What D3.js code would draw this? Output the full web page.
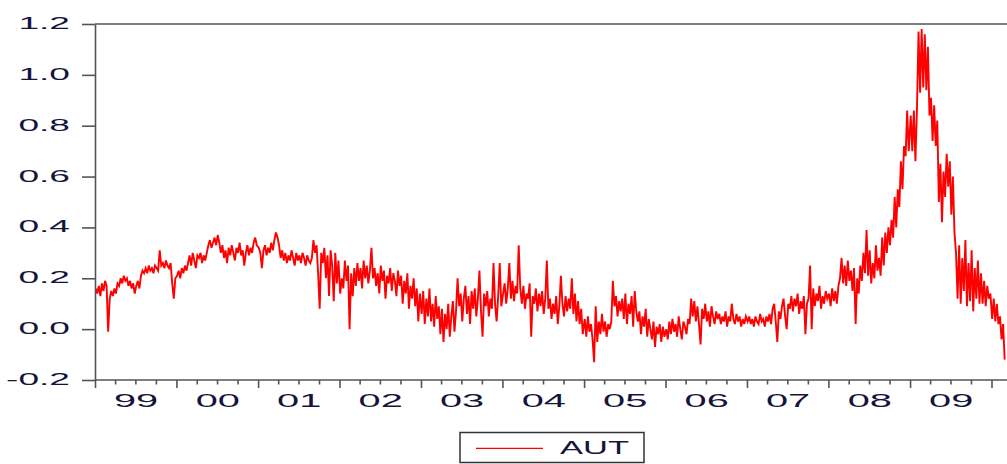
<!DOCTYPE html>
<html>
<head>
<meta charset="utf-8">
<script src="https://cdn.jsdelivr.net/npm/d3@7"></script>
<style>
  html, body { margin: 0; padding: 0; background: #fff; }
  svg { display: block; }
  text { font-family: "Liberation Sans", Arial, sans-serif; fill: #14143c; }
</style>
</head>
<body>
<svg id="chart" width="1007" height="464"></svg>
<script>
// AUT series, weekly observations grouped by calendar year
const seriesName = "AUT";

const aut1999 = [0.16,0.14,0.17,0.13,0.18,0.15,0.19,0.17,-0.01,0.12,0.15,0.13,0.16,0.14,0.18,0.17,
  0.2,0.18,0.21,0.19,0.2,0.17,0.19,0.16,0.18,0.14,0.17,0.19,0.16,0.21,0.23,0.22,0.24,0.22,0.25,0.23,
  0.24,0.22,0.25,0.24,0.23,0.31,0.25,0.26,0.24,0.27,0.25,0.24,0.26,0.18,0.12,0.2];
const aut2000 = [0.21,0.23,0.2,0.24,0.22,0.25,0.23,0.26,0.29,0.25,0.3,0.27,0.24,0.29,0.28,0.3,0.26,
  0.29,0.27,0.3,0.33,0.35,0.32,0.34,0.36,0.33,0.37,0.34,0.3,0.33,0.28,0.31,0.26,0.32,0.29,0.33,0.3,
  0.27,0.32,0.3,0.34,0.29,0.31,0.25,0.3,0.33,0.29,0.32,0.3,0.34,0.36,0.33];
const aut2001 = [0.32,0.3,0.24,0.31,0.33,0.29,0.32,0.3,0.34,0.31,0.35,0.38,0.36,0.33,0.28,0.31,0.27,
  0.3,0.26,0.29,0.27,0.31,0.28,0.25,0.3,0.27,0.29,0.26,0.3,0.28,0.25,0.29,0.27,0.26,0.28,0.35,0.3,
  0.33,0.22,0.08,0.3,0.26,0.32,0.2,0.29,0.13,0.31,0.25,0.11,0.3,0.18,0.27];
const aut2002 = [0.14,0.2,0.16,0.27,0.19,0.25,0.0,0.22,0.13,0.24,0.17,0.26,0.19,0.24,0.16,0.27,0.2,
  0.25,0.18,0.23,0.32,0.2,0.24,0.17,0.22,0.14,0.25,0.19,0.23,0.12,0.21,0.18,0.24,0.15,0.22,0.19,
  0.13,0.23,0.17,0.21,0.1,0.19,0.14,0.22,0.08,0.17,0.12,0.2,0.09,0.16,0.03,0.14];
const aut2003 = [0.06,0.15,0.02,0.12,0.05,0.16,0.03,0.1,0.01,0.13,0.04,0.09,-0.02,0.08,-0.05,0.06,
  0.0,0.1,-0.03,0.05,0.11,-0.01,0.07,0.2,0.09,0.14,0.03,0.12,0.17,0.06,0.13,0.02,0.15,0.08,0.16,
  0.05,0.12,0.23,0.07,-0.03,0.14,0.09,0.15,0.05,0.12,0.08,0.26,0.1,0.03,0.13,0.26,0.09];
const aut2004 = [0.14,0.18,0.1,0.16,0.26,0.12,0.19,0.11,0.17,0.14,0.33,0.16,0.1,0.17,0.08,0.14,0.12,
  0.18,-0.03,0.13,0.1,0.16,0.07,0.14,0.09,0.15,0.06,0.12,0.27,0.08,0.12,0.04,0.1,0.06,0.13,0.02,
  0.09,0.21,0.1,0.05,0.13,0.07,0.12,0.08,0.2,0.06,0.14,0.03,0.11,0.02,0.08,-0.02];
const aut2005 = [0.04,-0.03,0.05,-0.01,0.02,-0.04,-0.13,0.09,-0.05,0.03,-0.02,0.06,-0.01,0.03,-0.03,
  0.02,0.0,0.03,0.19,0.09,0.13,0.05,0.11,0.07,0.12,0.04,0.14,0.02,0.1,0.06,0.13,0.01,0.15,0.07,
  0.03,0.07,-0.02,0.05,0.01,0.08,-0.03,0.04,0.0,-0.04,0.03,-0.07,0.01,-0.02,0.02,-0.05,0.01,-0.03];
const aut2006 = [0.0,-0.04,0.03,-0.02,0.04,-0.01,0.02,-0.03,0.05,0.0,-0.04,0.03,0.01,-0.02,0.04,0.02,
  0.12,0.05,0.11,0.03,0.09,0.02,-0.06,0.08,0.04,0.1,0.03,0.07,0.01,0.09,0.05,0.02,0.07,0.04,0.06,
  0.02,0.05,0.03,0.07,0.01,0.05,0.03,0.1,0.04,0.02,0.06,0.03,0.05,0.01,0.04,0.02,0.05];
const aut2007 = [0.03,0.05,0.02,0.04,0.01,0.05,0.03,0.02,0.06,0.03,0.04,0.01,0.05,0.03,0.06,0.02,
  0.08,0.1,0.03,-0.05,0.07,0.04,0.09,0.12,0.05,0.0,0.1,0.08,0.13,0.07,0.12,0.09,0.14,0.06,0.11,
  0.08,0.13,-0.02,0.1,0.12,0.25,0.0,0.16,0.09,0.14,0.11,0.17,0.08,0.13,0.1,0.15,0.12];
const aut2008 = [0.14,0.09,0.16,0.11,0.15,0.1,0.17,0.2,0.28,0.18,0.25,0.17,0.27,0.19,0.23,0.15,0.24,
  0.02,0.2,0.14,0.25,0.19,0.3,0.22,0.39,0.21,0.31,0.18,0.26,0.2,0.33,0.23,0.28,0.21,0.36,0.25,0.38,
  0.3,0.4,0.33,0.43,0.36,0.52,0.4,0.55,0.48,0.66,0.55,0.72,0.68,0.86,0.7];
const aut2009 = [0.84,0.7,0.86,0.66,0.87,1.17,0.93,1.18,0.95,1.16,0.94,1.11,0.84,0.91,0.74,0.88,0.72,
  0.82,0.5,0.65,0.42,0.62,0.52,0.69,0.56,0.66,0.45,0.6,0.38,0.3,0.12,0.33,0.1,0.28,0.15,0.35,0.09,
  0.26,0.11,0.31,0.07,0.24,0.12,0.27,0.1,0.22,0.1,0.19,0.09,0.17,0.12,0.14];
const aut2010 = [0.04,0.12,0.03,0.1,0.02,0.05,-0.04,0.02,-0.12];

const yearLabels = ["99","00","01","02","03","04","05","06","07","08","09"];
const firstYear = 1999;
const yTickValues = [-0.2, 0.0, 0.2, 0.4, 0.6, 0.8, 1.0, 1.2];
const yTickLabels = ["-0.2","0.0","0.2","0.4","0.6","0.8","1.0","1.2"];

const yearlySeries = [
  [1999, aut1999], [2000, aut2000], [2001, aut2001], [2002, aut2002],
  [2003, aut2003], [2004, aut2004], [2005, aut2005], [2006, aut2006],
  [2007, aut2007], [2008, aut2008], [2009, aut2009], [2010, aut2010]
];
const data = yearlySeries.flatMap(([yr, vals]) =>
  vals.map((v, i) => ({ date: new Date(yr, 0, 4 + 7 * i), value: v })));

const svg = d3.select("#chart");
const plotLeft = 95, plotRight = 1007, plotTop = 24, plotBottom = 380;
const axisColor = "#555";

const x = d3.scaleTime()
  .domain([new Date(1999, 0, 1), new Date(2010, 0, 1)])
  .range([plotLeft, 991.5]);
const y = d3.scaleLinear()
  .domain([-0.2, 1.2])
  .range([plotBottom, plotTop]);

// series line
svg.append("path")
  .datum(data)
  .attr("fill", "none")
  .attr("stroke", "#ff0000")
  .attr("stroke-width", 1.9)
  .attr("stroke-linejoin", "miter")
  .attr("d", d3.line().x(d => x(d.date)).y(d => y(d.value)));

// frame: top edge and bottom axis line
svg.append("line")
  .attr("x1", plotLeft).attr("x2", plotRight + 2)
  .attr("y1", plotTop).attr("y2", plotTop)
  .attr("stroke", axisColor).attr("stroke-width", 1.6);
svg.append("line")
  .attr("x1", plotLeft).attr("x2", plotRight + 2)
  .attr("y1", plotBottom).attr("y2", plotBottom)
  .attr("stroke", axisColor).attr("stroke-width", 1.6);

// left axis
const yAxis = svg.append("g")
  .attr("transform", `translate(${plotLeft},0)`)
  .call(d3.axisLeft(y)
    .tickValues(yTickValues)
    .tickSize(13)
    .tickSizeOuter(0)
    .tickFormat((d, i) => yTickLabels[i]));
yAxis.select(".domain").attr("stroke", axisColor).attr("stroke-width", 1.6);
yAxis.selectAll(".tick line").attr("stroke", axisColor).attr("stroke-width", 1.6);
yAxis.selectAll(".tick text")
  .attr("x", 0).attr("dy", null)
  .attr("font-size", 16.5)
  .attr("fill", "#12123a")
  .attr("transform", "translate(-25,4.5) scale(2.25,1)");

// bottom axis: year ticks, quarter ticks, and year labels centred in each year
const yearStarts = d3.range(firstYear, 2011).map(yr => new Date(yr, 0, 1));
const quarterStarts = d3.timeMonths(new Date(1999, 0, 1), new Date(2010, 1, 1), 3)
  .filter(d => d.getMonth() !== 0);
const midYears = yearLabels.map((_, i) => new Date(firstYear + i, 6, 2));

const xMajor = svg.append("g")
  .attr("transform", `translate(0,${plotBottom})`)
  .call(d3.axisBottom(x).tickValues(yearStarts).tickSize(8).tickSizeOuter(0).tickFormat(""));
const xMinor = svg.append("g")
  .attr("transform", `translate(0,${plotBottom})`)
  .call(d3.axisBottom(x).tickValues(quarterStarts).tickSize(4.5).tickSizeOuter(0).tickFormat(""));
const xLabels = svg.append("g")
  .attr("transform", `translate(0,${plotBottom})`)
  .call(d3.axisBottom(x).tickValues(midYears).tickSize(0).tickSizeOuter(0)
    .tickFormat((d, i) => yearLabels[i]));

[xMajor, xMinor, xLabels].forEach(g => {
  g.select(".domain").remove();
  g.selectAll(".tick line").attr("stroke", axisColor).attr("stroke-width", 1.6);
});
xLabels.selectAll(".tick text")
  .attr("y", 0).attr("dy", null)
  .attr("font-size", 18.5)
  .attr("fill", "#12123a")
  .attr("transform", "translate(0,26.5) scale(2.15,1)");

// legend
const legend = svg.append("g");
legend.append("rect")
  .attr("x", 460).attr("y", 432.5)
  .attr("width", 184).attr("height", 30)
  .attr("fill", "#fff")
  .attr("stroke", "#333").attr("stroke-width", 1.5);
legend.append("line")
  .attr("x1", 476).attr("x2", 543)
  .attr("y1", 448.3).attr("y2", 448.3)
  .attr("stroke", "#ff0000").attr("stroke-width", 1.2);
legend.append("text")
  .attr("font-size", 17.7)
  .attr("fill", "#12123a")
  .attr("transform", "translate(560,453.5) scale(1.95,1)")
  .text(seriesName);
</script>
</body>
</html>
